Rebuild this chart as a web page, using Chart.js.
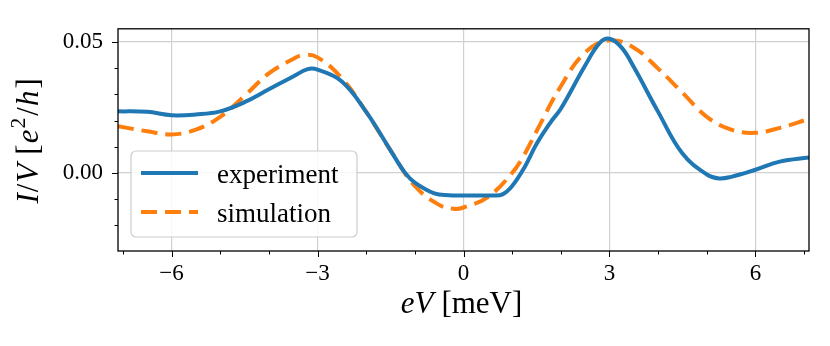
<!DOCTYPE html>
<html>
<head>
<meta charset="utf-8">
<script src="https://cdn.jsdelivr.net/npm/chart.js@4"></script>
<style>
  html, body { margin: 0; padding: 0; background: #fff; }
  canvas { display: block; }
</style>
</head>
<body>
<canvas id="ivChart" width="830" height="346"></canvas>
<script>
// bias eV in meV
const expBias = [-7.1, -6.5, -6, -5.5, -5, -4.5, -4, -3.5, -3.2, -3, -2.5, -2, -1.5, -1.2, -1, -0.6, -0.3, 0, 0.3, 0.6, 0.8, 1, 1.25, 1.5, 1.8, 2, 2.5, 2.8, 3, 3.25, 3.5, 4, 4.5, 5, 5.25, 5.5, 6, 6.5, 7.1];
const expValues = [0.0235, 0.0233, 0.022, 0.0223, 0.0235, 0.027, 0.0319, 0.0368, 0.0396, 0.0394, 0.0349, 0.0233, 0.0086, 0.0, -0.0037, -0.0078, -0.0085, -0.0086, -0.0086, -0.0086, -0.0082, -0.005, 0.002, 0.011, 0.0196, 0.0245, 0.041, 0.0496, 0.0512, 0.0478, 0.0404, 0.0233, 0.0074, -0.0006, -0.0021, -0.0015, 0.0012, 0.0043, 0.0059];

const simBias = [-7.1, -6.5, -6, -5.5, -5, -4.5, -4, -3.5, -3.3, -3, -2.5, -2, -1.5, -1, -0.5, -0.2, 0, 0.5, 1, 1.25, 1.5, 2, 2.5, 3, 3.5, 4, 4.5, 5, 5.5, 6, 6.5, 7.1];
const simValues = [0.0178, 0.0159, 0.0147, 0.0165, 0.0214, 0.0294, 0.038, 0.0435, 0.045, 0.0441, 0.0361, 0.0233, 0.0086, -0.005, -0.0122, -0.0137, -0.0132, -0.0092, 0.0, 0.007, 0.0159, 0.0331, 0.046, 0.0506, 0.0478, 0.0398, 0.0306, 0.0214, 0.0165, 0.0153, 0.0172, 0.0206];

const xTicks = [-7, -6, -5, -4, -3, -2, -1, 0, 1, 2, 3, 4, 5, 6, 7];
const xTickLabels = [-6, -3, 0, 3, 6];
const yTicks = [-0.02, -0.01, 0, 0.01, 0.02, 0.03, 0.04, 0.05];
const yTickLabels = [0, 0.05];

const serif = '"Liberation Serif", "DejaVu Serif", serif';

const isLabelX = v => xTickLabels.some(t => Math.abs(t - v) < 1e-9);
const isLabelY = v => yTickLabels.some(t => Math.abs(t - v) < 1e-9);

// draw a string made of upright / italic / superscript pieces
function drawRuns(ctx, runs, size) {
  const fontOf = r => (r.it ? 'italic ' : '') + (r.sup ? size * 0.7 : size) + 'px ' + serif;
  let total = 0;
  runs.forEach(r => { ctx.font = fontOf(r); total += ctx.measureText(r.t).width + (r.gap || 0); });
  let x = -total / 2;
  ctx.textBaseline = 'alphabetic';
  ctx.textAlign = 'left';
  runs.forEach(r => {
    ctx.font = fontOf(r);
    ctx.fillText(r.t, x, r.sup ? -size * 0.42 : 0);
    x += ctx.measureText(r.t).width + (r.gap || 0);
  });
}

const extras = {
  id: 'extras',
  afterDraw(chart) {
    const ctx = chart.ctx;
    const a = chart.chartArea;
    const xs = chart.scales.x, ys = chart.scales.y;
    ctx.save();

    // ticks (major + minor), outside
    ctx.strokeStyle = '#000';
    ctx.lineWidth = 1;
    ctx.beginPath();
    xTicks.forEach(v => {
      const px = Math.round(xs.getPixelForValue(v)) + 0.5;
      const len = isLabelX(v) ? 6 : 3.5;
      ctx.moveTo(px, a.bottom);
      ctx.lineTo(px, a.bottom + len);
    });
    yTicks.forEach(v => {
      const py = Math.round(ys.getPixelForValue(v)) + 0.5;
      const len = isLabelY(v) ? 6 : 3.5;
      ctx.moveTo(a.left, py);
      ctx.lineTo(a.left - len, py);
    });
    ctx.stroke();

    // frame
    ctx.lineWidth = 1.3;
    ctx.strokeRect(a.left, a.top, a.right - a.left, a.bottom - a.top);

    // legend
    const bx = 131, by = 151, bw = 226, bh = 86;
    ctx.beginPath();
    ctx.roundRect(bx, by, bw, bh, 5);
    ctx.fillStyle = 'rgba(255,255,255,0.85)';
    ctx.fill();
    ctx.strokeStyle = '#cccccc';
    ctx.lineWidth = 1.2;
    ctx.stroke();

    const rows = [173, 212];
    chart.data.datasets.forEach((ds, i) => {
      ctx.beginPath();
      ctx.strokeStyle = ds.borderColor;
      ctx.lineWidth = ds.borderWidth;
      ctx.setLineDash(ds.borderDash || []);
      ctx.lineCap = 'butt';
      ctx.moveTo(141, rows[i]);
      ctx.lineTo(198, rows[i]);
      ctx.stroke();
      ctx.setLineDash([]);
      ctx.fillStyle = '#000';
      ctx.font = '27px ' + serif;
      ctx.textAlign = 'left';
      ctx.textBaseline = 'alphabetic';
      ctx.fillText(ds.label, 217, rows[i] + 10);
    });

    // axis titles
    ctx.fillStyle = '#000';
    ctx.save();
    ctx.translate((a.left + a.right) / 2 - 2, 313);
    drawRuns(ctx, [
      { t: 'eV', it: true, gap: 8 },
      { t: '[meV]' }
    ], 31);
    ctx.restore();

    ctx.save();
    ctx.translate(38, (a.top + a.bottom) / 2 + 1);
    ctx.rotate(-Math.PI / 2);
    drawRuns(ctx, [
      { t: 'I', it: true, gap: 1 },
      { t: '/', gap: 1 },
      { t: 'V', it: true, gap: 9 },
      { t: '[', gap: 1 },
      { t: 'e', it: true, gap: 1 },
      { t: '2', sup: true, gap: 2 },
      { t: '/', gap: 1 },
      { t: 'h', it: true, gap: 2 },
      { t: ']' }
    ], 31);
    ctx.restore();

    ctx.restore();
  }
};

const ctx = document.getElementById('ivChart').getContext('2d');
const ivChart = new Chart(ctx, {
  type: 'line',
  data: {
    datasets: [{
      label: 'experiment',
      data: expBias.map((x, i) => ({ x: x, y: expValues[i] })),
      borderColor: '#1f77b4',
      borderWidth: 4,
      pointRadius: 0,
      fill: false,
      tension: 0.4
    }, {
      label: 'simulation',
      data: simBias.map((x, i) => ({ x: x, y: simValues[i] })),
      borderColor: '#ff7f0e',
      borderWidth: 4,
      borderDash: [16, 8],
      pointRadius: 0,
      fill: false,
      tension: 0.4
    }]
  },
  options: {
    responsive: false,
    animation: false,
    devicePixelRatio: 1,
    layout: { padding: { top: 20, right: 21, left: 0, bottom: 0 } },
    plugins: {
      legend: { display: false },
      tooltip: { enabled: false }
    },
    scales: {
      x: {
        type: 'linear',
        min: -7.1,
        max: 7.1,
        afterBuildTicks: scale => { scale.ticks = xTicks.map(v => ({ value: v })); },
        afterFit: scale => { scale.height = 95; },
        border: { display: false },
        grid: {
          drawTicks: false,
          lineWidth: 1.2,
          color: c => isLabelX(c.tick.value) ? '#d0d0d0' : 'rgba(0,0,0,0)'
        },
        ticks: {
          autoSkip: false,
          maxRotation: 0,
          padding: 9,
          color: '#000',
          font: { family: serif, size: 23 },
          callback: v => isLabelX(v) ? (v < 0 ? '\u2212' + Math.abs(v) : String(v)) : ''
        }
      },
      y: {
        min: -0.0298,
        max: 0.055,
        afterBuildTicks: scale => { scale.ticks = yTicks.map(v => ({ value: v })); },
        afterFit: scale => { scale.width = 118; },
        border: { display: false },
        grid: {
          drawTicks: false,
          lineWidth: 1.2,
          color: c => isLabelY(c.tick.value) ? '#d0d0d0' : 'rgba(0,0,0,0)'
        },
        ticks: {
          autoSkip: false,
          padding: 15,
          color: '#000',
          font: { family: serif, size: 23 },
          callback: v => isLabelY(v) ? v.toFixed(2) : ''
        }
      }
    }
  },
  plugins: [extras]
});
</script>
</body>
</html>
